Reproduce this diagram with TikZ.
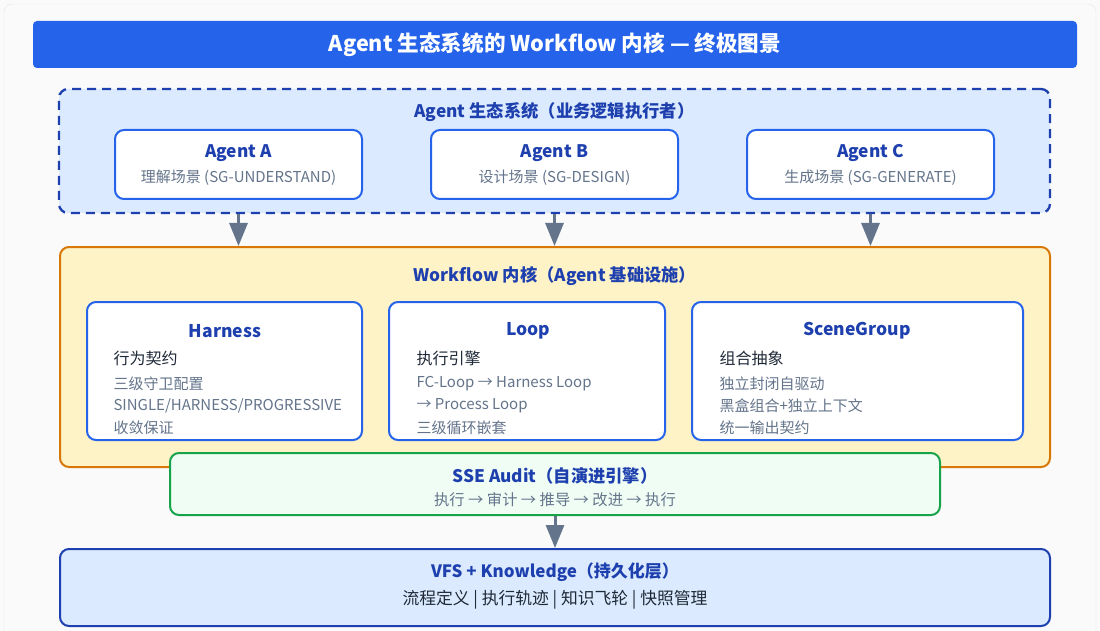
\documentclass[tikz,border=0pt]{standalone}
\usepackage{fontspec}
\setmainfont{Noto Sans CJK SC}
\usetikzlibrary{arrows.meta}
\definecolor{pagebg}{HTML}{FAFAFA}
\definecolor{pageline}{HTML}{E5E7EB}
\definecolor{barblue}{HTML}{2563EB}
\definecolor{navy}{HTML}{1E40AF}
\definecolor{paleblue}{HTML}{DBEAFE}
\definecolor{slate}{HTML}{64748B}
\definecolor{ink}{HTML}{1F2937}
\definecolor{amber}{HTML}{D97706}
\definecolor{paleamber}{HTML}{FEF3C7}
\definecolor{leaf}{HTML}{16A34A}
\definecolor{paleleaf}{HTML}{F0FDF4}
\begin{document}
\begin{tikzpicture}[x=1pt, y=-1pt,
    panel/.style={rounded corners=9pt, line width=2pt},
    card/.style={panel, draw=barblue, fill=white},
    head/.style={font=\fontsize{17.3}{20}\selectfont\bfseries, text=navy},
    sub/.style={font=\fontsize{15}{18}\selectfont, text=slate},
    lead/.style={font=\fontsize{16}{19}\selectfont, text=ink, anchor=west},
    item/.style={font=\fontsize{15}{18}\selectfont, text=slate, anchor=west},
    flow/.style={draw=slate, line width=3pt, -{Triangle[width=18pt,length=23pt]}}]
  \useasboundingbox (0,0) rectangle (1100,631);
  \fill[pagebg] (0,0) rectangle (1100,631);
  \draw[pageline, rounded corners=8pt] (4,4) rectangle (1096,660);

  % title bar
  \node[fill=barblue, rounded corners=4pt, minimum width=1044pt, minimum height=47pt,
    text=white, font=\fontsize{21.6}{25}\selectfont\bfseries] (title) at (555,44.5)
    {Agent 生态系统的 Workflow 内核 — 终极图景};

  % agent layer
  \node[panel, draw=navy, dashed, dash pattern=on 9pt off 6pt, line width=2.3pt, fill=paleblue,
    minimum width=991pt, minimum height=124pt] (eco) at (554.5,151) {};
  \node[head] (ecoT) at (554.5,112) {Agent 生态系统（业务逻辑执行者）};
  \node[card, minimum width=247pt, minimum height=69pt] (agA) at (238.5,164.5) {};
  \node[card, minimum width=247pt, minimum height=69pt] (agB) at (554.5,164.5) {};
  \node[card, minimum width=247pt, minimum height=69pt] (agC) at (870.5,164.5) {};
  \node[head] (agAT) at (238.5,153) {Agent A};
  \node[sub] (agAS) at (238.5,178) {理解场景 (SG-UNDERSTAND)};
  \node[head] (agBT) at (554.5,153) {Agent B};
  \node[sub] (agBS) at (554.5,178) {设计场景 (SG-DESIGN)};
  \node[head] (agCT) at (870.5,153) {Agent C};
  \node[sub] (agCS) at (870.5,178) {生成场景 (SG-GENERATE)};

  % workflow core
  \node[panel, draw=amber, fill=paleamber, minimum width=990pt, minimum height=220pt] (wf) at (555,357) {};
  \node[head] (wfT) at (555,276) {Workflow 内核（Agent 基础设施）};

  \node[card, minimum width=275pt, minimum height=138pt] (har) at (224.5,371) {};
  \node[head, font=\fontsize{17.5}{20}\selectfont\bfseries] (harT) at (225,331) {Harness};
  \node[lead] (harL) at (110,358) {行为契约};
  \node[item] (har1) at (110,384) {三级守卫配置};
  \node[item] (har2) at (110,406) {SINGLE/HARNESS/PROGRESSIVE};
  \node[item] (har3) at (110,428) {收敛保证};

  \node[card, minimum width=276pt, minimum height=138pt] (lp) at (527,371) {};
  \node[head, font=\fontsize{17.5}{20}\selectfont\bfseries] (lpT) at (528,331) {Loop};
  \node[lead] (lpL) at (413,358) {执行引擎};
  \node[item] (lp1) at (413,384) {FC-Loop → Harness Loop};
  \node[item] (lp2) at (413,406) {→ Process Loop};
  \node[item] (lp3) at (413,428) {三级循环嵌套};

  \node[card, minimum width=331pt, minimum height=138pt] (sg) at (857.5,371) {};
  \node[head, font=\fontsize{17.5}{20}\selectfont\bfseries] (sgT) at (857,331) {SceneGroup};
  \node[lead] (sgL) at (716,358) {组合抽象};
  \node[item] (sg1) at (716,384) {独立封闭自驱动};
  \node[item] (sg2) at (716,406) {黑盒组合+独立上下文};
  \node[item] (sg3) at (716,428) {统一输出契约};

  % self-evolving audit
  \node[panel, draw=leaf, fill=paleleaf, minimum width=770pt, minimum height=62pt] (sse) at (555,484) {};
  \node[head] (sseT) at (555,476) {SSE Audit（自演进引擎）};
  \node[sub, font=\fontsize{15.3}{18}\selectfont] (sseS) at (555,500) {执行 → 审计 → 推导 → 改进 → 执行};

  % persistence
  \node[panel, draw=navy, fill=paleblue, minimum width=990pt, minimum height=77pt] (vfs) at (555,587.5) {};
  \node[head, font=\fontsize{17}{20}\selectfont\bfseries] (vfsT) at (555,572) {VFS + Knowledge（持久化层）};
  \node[font=\fontsize{16.8}{20}\selectfont, text=ink] (vfsS) at (555,600) {流程定义 | 执行轨迹 | 知识飞轮 | 快照管理};

  % connectors
  \draw[flow] (agA |- eco.south) -- (agA |- wf.north);
  \draw[flow] (agB |- eco.south) -- (agB |- wf.north);
  \draw[flow] (agC |- eco.south) -- (agC |- wf.north);
  \draw[flow] (sse.south) -- (vfs.north);
\end{tikzpicture}
\end{document}
